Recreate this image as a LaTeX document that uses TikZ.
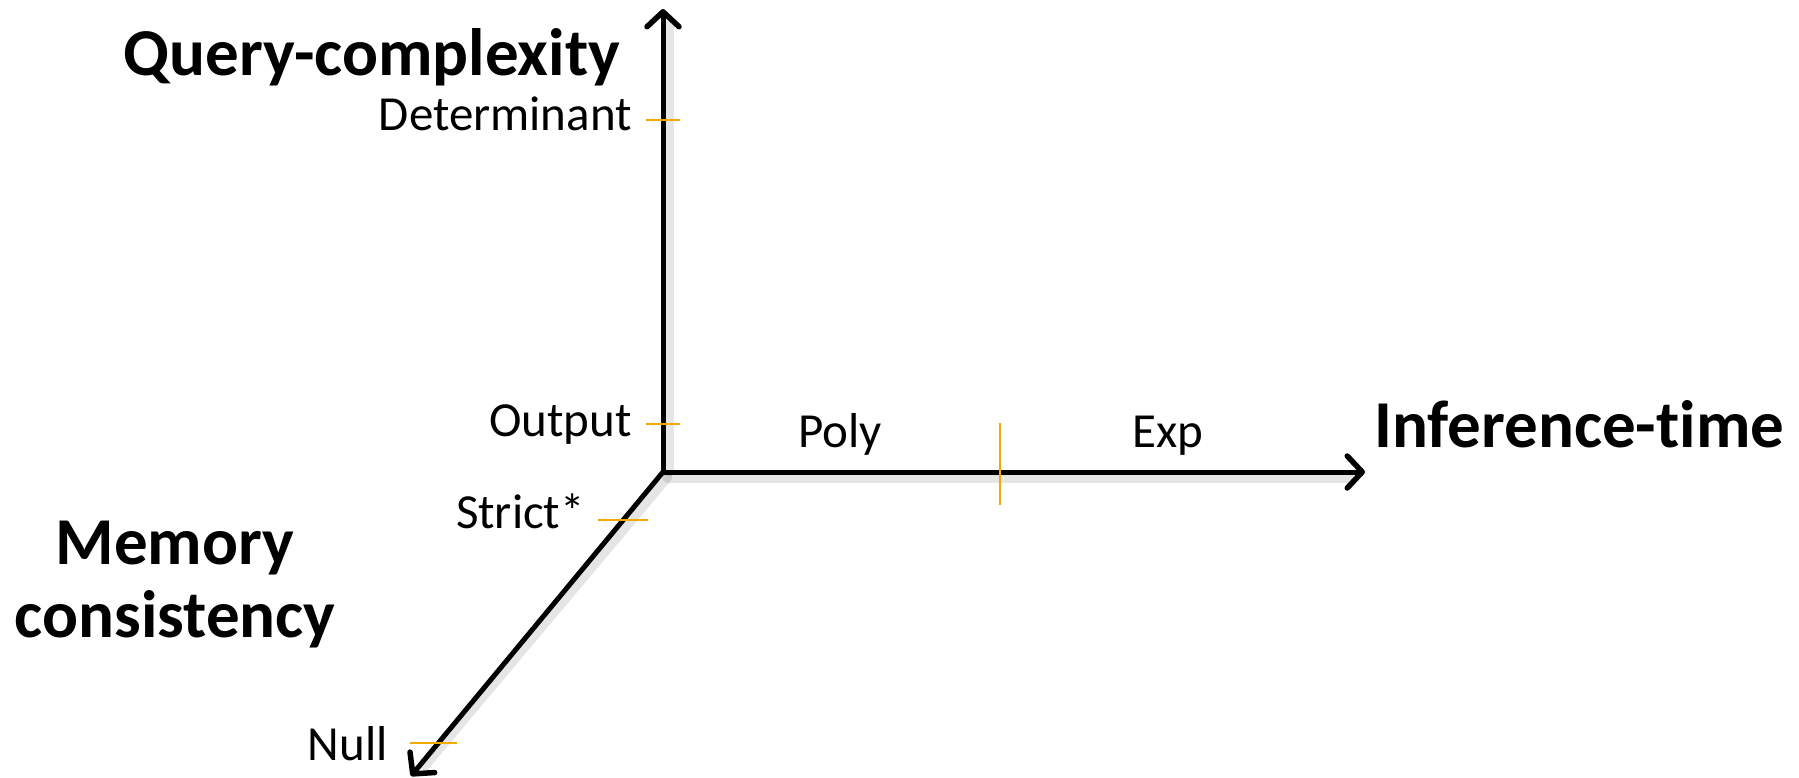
\documentclass[tikz,border=0pt]{standalone}
\usepackage{fontspec}
\setmainfont[Ligatures={NoCommon}]{Carlito}
\usetikzlibrary{arrows.meta}
\definecolor{tickorange}{RGB}{242,170,0}
\tikzset{
  axis/.style={line width=5pt, -{Straight Barb[length=15pt,width=32pt,line width=5.5pt,round]}},
  axshadow/.style={line width=9pt, black, opacity=0.10, line cap=round},
  tickmark/.style={tickorange, line width=2.5pt},
  lbl/.style={inner sep=0pt, font=\fontsize{49}{58}\selectfont},
  ttl/.style={inner sep=0pt, font=\fontsize{67}{80}\selectfont\bfseries},
}
\begin{document}
\begin{tikzpicture}[x=1pt,y=-1pt]
\useasboundingbox (0,0) rectangle (1799,778);
% axis points
\coordinate (O) at (663,472);
\coordinate (Ytip) at (663,9);
\coordinate (Xtip) at (1365,472);
\coordinate (Ztip) at (411,776);
% soft shadows
\draw[axshadow] ([shift={(4,6)}]O) -- ([shift={(-14,6)}]Xtip);
\draw[axshadow] ([shift={(6,0)}]O) -- ([shift={(6,14)}]Ytip);
\draw[axshadow] ([shift={(5,5)}]O) -- ([shift={(14,-10)}]Ztip);
% axes
\draw[axis] (O) -- (Ytip);
\draw[axis] (O) -- (Xtip);
\draw[axis] (O) -- (Ztip);
% ticks
\coordinate (tDa) at (646,120); \coordinate (tDb) at (680,120);
\coordinate (tOa) at (646,424); \coordinate (tOb) at (680,424);
\coordinate (tSa) at (598,520); \coordinate (tSb) at (648,520);
\coordinate (tNa) at (410,743); \coordinate (tNb) at (457,743);
\coordinate (tPa) at (1000,423); \coordinate (tPb) at (1000,505);
\draw[tickmark] (tDa) -- (tDb);
\draw[tickmark] (tOa) -- (tOb);
\draw[tickmark] (tSa) -- (tSb);
\draw[tickmark] (tNa) -- (tNb);
\draw[tickmark] (tPa) -- (tPb);
% labels
\node[ttl, anchor=base] (qc) at (372,76) {Query-complexity};
\node[lbl, anchor=base east] (det) at (632,131) {Determinant};
\node[lbl, anchor=base east] (out) at (632,436) {Output};
\node[lbl, anchor=base] (poly) at (840,447) {Poly};
\node[lbl, anchor=base] (exp) at (1168,447) {Exp};
\node[ttl, anchor=base west] (inf) at (1374,447) {Inference-time};
\node[lbl, anchor=base east] (strict) at (585,528) {Strict*};
\node[ttl, anchor=base] (mem) at (175,564) {Memory};
\node[ttl, anchor=base] (cons) at (175,637) {consistency};
\node[lbl, anchor=base east] (null) at (388,760) {Null};
\end{tikzpicture}
\end{document}
